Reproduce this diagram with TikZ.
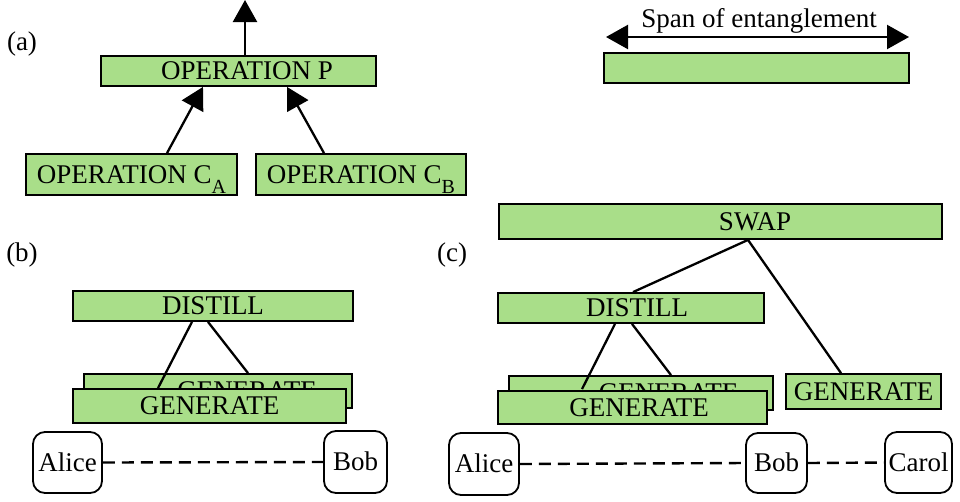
\documentclass[tikz,border=0pt]{standalone}
\usepackage{fontspec}
\setmainfont{Liberation Serif}
\usetikzlibrary{arrows.meta}
\definecolor{opgreen}{RGB}{169,222,137}
\newcommand{\opsub}[1]{\raisebox{-10pt}{\fontsize{20}{20}\selectfont #1}}

\begin{document}
\begin{tikzpicture}[x=1pt,y=-1pt,
    font=\fontsize{27}{30}\selectfont,
    opbox/.style={draw,fill=opgreen,line width=1.8pt,inner sep=0pt,text height=17.8pt,text depth=0pt},
    party/.style={draw,rounded corners=12pt,line width=1.8pt,inner sep=0pt,text height=17.8pt,text depth=0pt},
    link/.style={line width=2.3pt},
    ent/.style={line width=2.4pt,dash pattern=on 12pt off 7pt},
    tip/.style={-{Triangle[length=22pt,width=24pt]}}]
      \useasboundingbox (0,0) rectangle (960,501);
      % (a) a parent operation and its children
      \node (laba) at (22,44) {(a)};
      \node[opbox,minimum width=275pt,minimum height=30pt] (opP) at (238.5,71) {\hspace*{17pt}OPERATION P};
      \node[opbox,minimum width=211pt,minimum height=41pt] (opCA) at (131.5,174.5) {OPERATION C\opsub{A}};
      \node[opbox,minimum width=210pt,minimum height=41pt] (opCB) at (361,174.5) {OPERATION C\opsub{B}};
      \coordinate (up) at (245,0);
      \draw[link,tip] ([xshift=6.5pt]opP.north) -- (up);
      \draw[link,tip] ([xshift=35.5pt]opCA.north) -- ([xshift=-35.5pt]opP.south);
      \draw[link,tip] ([xshift=-37pt]opCB.north) -- ([xshift=48.5pt]opP.south);
      % span of entanglement
      \node[opbox,minimum width=305pt,minimum height=30pt] (span) at (756.5,68) {};
      \coordinate (spanL) at (606,37);
      \coordinate (spanR) at (909,37);
      \draw[link,{Triangle[length=22pt,width=24pt]}-{Triangle[length=22pt,width=24pt]}] (spanL) -- (spanR);
      \node[anchor=base] (spantxt) at (759,27) {Span of entanglement};
      % (b) distill two links between Alice and Bob
      \node (labb) at (22,255) {(b)};
      \node[opbox,minimum width=280pt,minimum height=30pt] (distb) at (213,306) {DISTILL};
      \node[opbox,minimum width=268pt,minimum height=34pt] (genbB) at (218,391) {\hspace*{58pt}GENERATE};
      \draw[link] ([xshift=-21pt]distb.south) -- ([xshift=-60pt,yshift=-15pt]genbB.north);
      \draw[link] ([xshift=-5pt]distb.south) -- ([xshift=30pt]genbB.north);
      \node[opbox,minimum width=273pt,minimum height=34pt] (genbF) at (209.5,406) {GENERATE};
      \node[party,minimum width=69pt,minimum height=61pt] (aliceb) at (67.5,462.5) {Alice};
      \node[party,minimum width=63pt,minimum height=62pt] (bobb) at (355.5,462) {Bob};
      \draw[ent] (aliceb.east) -- (bobb.west);
      % (c) swap over a distilled link and a generated link
      \node (labc) at (452,255) {(c)};
      \node[opbox,minimum width=443pt,minimum height=35pt] (swapc) at (720.5,221.5) {\hspace*{69pt}SWAP};
      \node[opbox,minimum width=266pt,minimum height=30pt] (distc) at (631,308) {\hspace*{12pt}DISTILL};
      \node[opbox,minimum width=155pt,minimum height=35pt] (genc) at (863.5,391.5) {GENERATE};
      \draw[link] ([xshift=27.5pt]swapc.south) -- ([xshift=2pt]distc.north);
      \draw[link] ([xshift=27.5pt]swapc.south) -- ([xshift=-22.5pt]genc.north);
      \node[opbox,minimum width=264pt,minimum height=34pt] (gencB) at (641,393) {\hspace*{55pt}GENERATE};
      \draw[link] ([xshift=-16pt]distc.south) -- ([xshift=-59pt,yshift=-14pt]gencB.north);
      \draw[link] ([xshift=1pt]distc.south) -- ([xshift=30pt]gencB.north);
      \node[opbox,minimum width=269pt,minimum height=33pt] (gencF) at (632.5,407.5) {\hspace*{13pt}GENERATE};
      \node[party,minimum width=70pt,minimum height=62pt] (alicec) at (484,464) {Alice};
      \node[party,minimum width=61pt,minimum height=60pt] (bobc) at (776.5,463) {Bob};
      \node[party,minimum width=67pt,minimum height=61pt] (carolc) at (918.5,462.5) {Carol};
      \draw[ent] (alicec.east) -- (bobc.west);
      \draw[ent] (bobc.east) -- (carolc.west);
\end{tikzpicture}
\end{document}
